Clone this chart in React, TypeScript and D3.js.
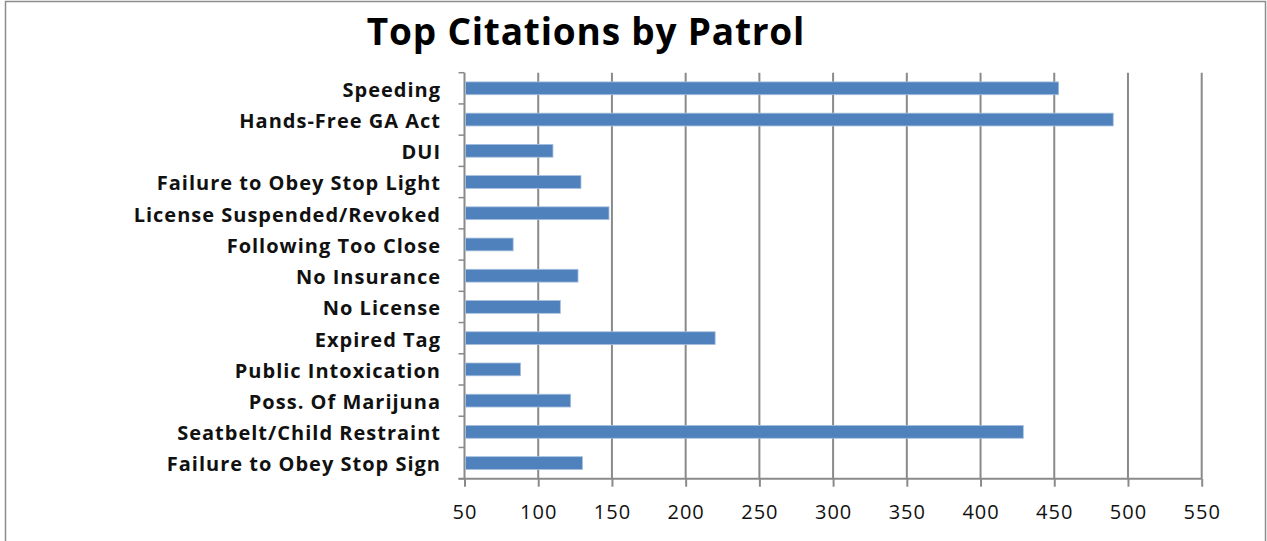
import React, { useEffect, useRef } from 'react';
import * as d3 from 'd3';

const categories = [
    "Speeding",
    "Hands-Free GA Act",
    "DUI",
    "Failure to Obey Stop Light",
    "License Suspended/Revoked",
    "Following Too Close",
    "No Insurance",
    "No License",
    "Expired Tag",
    "Public Intoxication",
    "Poss. Of Marijuna",
    "Seatbelt/Child Restraint",
    "Failure to Obey Stop Sign",
];
const citations = [453, 490, 110, 129, 148, 83, 127, 115, 220, 88, 122, 429, 130];
const xTicks = [50, 100, 150, 200, 250, 300, 350, 400, 450, 500, 550];
const title = "Top Citations by Patrol";

const App: React.FC = () => {
    const svgRef = useRef<SVGSVGElement | null>(null);

    useEffect(() => {
        const svg = d3.select(svgRef.current);
        svg.selectAll("*").remove();

        const width = 1267;
        const height = 541;
        const plot = { left: 464.5, right: 1201.7, top: 72.7, bottom: 478.7 };
        const font = "'Open Sans', 'DejaVu Sans', sans-serif";

        // outer frame
        svg.append("rect")
            .attr("x", 5.5).attr("y", 1.5)
            .attr("width", width - 7).attr("height", height + 10)
            .attr("fill", "white")
            .attr("stroke", "#8c8c8c")
            .attr("stroke-width", 1.5);

        const x = d3.scaleLinear()
            .domain([50, 550])
            .range([plot.left, plot.right]);

        const y = d3.scaleBand()
            .domain(categories)
            .range([plot.top, plot.bottom])
            .paddingInner(0.59)
            .paddingOuter(0.295);

        svg.append("text")
            .attr("x", 586)
            .attr("y", 45)
            .attr("text-anchor", "middle")
            .attr("font-family", font)
            .attr("font-weight", "bold")
            .attr("font-size", 37)
            .attr("letter-spacing", 0.8)
            .text(title);

        // vertical gridlines
        svg.append("g")
            .selectAll("line")
            .data(xTicks.slice(1))
            .enter()
            .append("line")
            .attr("x1", d => x(d)).attr("x2", d => x(d))
            .attr("y1", plot.top).attr("y2", plot.bottom)
            .attr("stroke", "#8a8a8a")
            .attr("stroke-width", 2);

        // bottom axis
        const xAxis = svg.append("g")
            .attr("transform", `translate(0,${plot.bottom})`)
            .call(d3.axisBottom(x).tickValues(xTicks).tickSize(8).tickPadding(18).tickFormat(d3.format("d")));
        xAxis.select(".domain")
            .attr("stroke", "#8a8a8a").attr("stroke-width", 2)
            .attr("d", `M${plot.left - 6},0H${plot.right}`);
        xAxis.selectAll(".tick line").attr("stroke", "#8a8a8a").attr("stroke-width", 2);
        xAxis.selectAll("text")
            .attr("font-family", font)
            .attr("font-size", 20)
            .attr("letter-spacing", 1)
            .attr("fill", "#111");

        // left axis with ticks between categories
        const left = svg.append("g");
        left.append("line")
            .attr("x1", plot.left).attr("x2", plot.left)
            .attr("y1", plot.top).attr("y2", plot.bottom)
            .attr("stroke", "#8a8a8a").attr("stroke-width", 2);
        left.selectAll("line.tk")
            .data(d3.range(categories.length + 1))
            .enter()
            .append("line")
            .attr("class", "tk")
            .attr("x1", plot.left - 6).attr("x2", plot.left)
            .attr("y1", i => plot.top + i * y.step())
            .attr("y2", i => plot.top + i * y.step())
            .attr("stroke", "#8a8a8a").attr("stroke-width", 1.5);

        left.selectAll("text")
            .data(categories)
            .enter()
            .append("text")
            .attr("x", 441)
            .attr("y", d => y(d)! + y.bandwidth() / 2)
            .attr("dy", "0.42em")
            .attr("text-anchor", "end")
            .attr("font-family", font)
            .attr("font-weight", "bold")
            .attr("font-size", 20)
            .attr("letter-spacing", 1)
            .attr("fill", "#111")
            .text(d => d);

        // bars
        svg.append("g")
            .selectAll("rect")
            .data(categories.map((c, i) => ({ c, v: citations[i] })))
            .enter()
            .append("rect")
            .attr("x", plot.left + 1)
            .attr("y", d => y(d.c)!)
            .attr("width", d => x(d.v) - plot.left - 1)
            .attr("height", y.bandwidth())
            .attr("fill", "#4f81bd")
            .attr("stroke", "#a7c0de")
            .attr("stroke-width", 0.8);
    }, []);

    return (
        <svg ref={svgRef} width={1267} height={541}
            style={{ position: "absolute", left: 0, top: 0, background: "white" }} />
    );
};

export default App;
